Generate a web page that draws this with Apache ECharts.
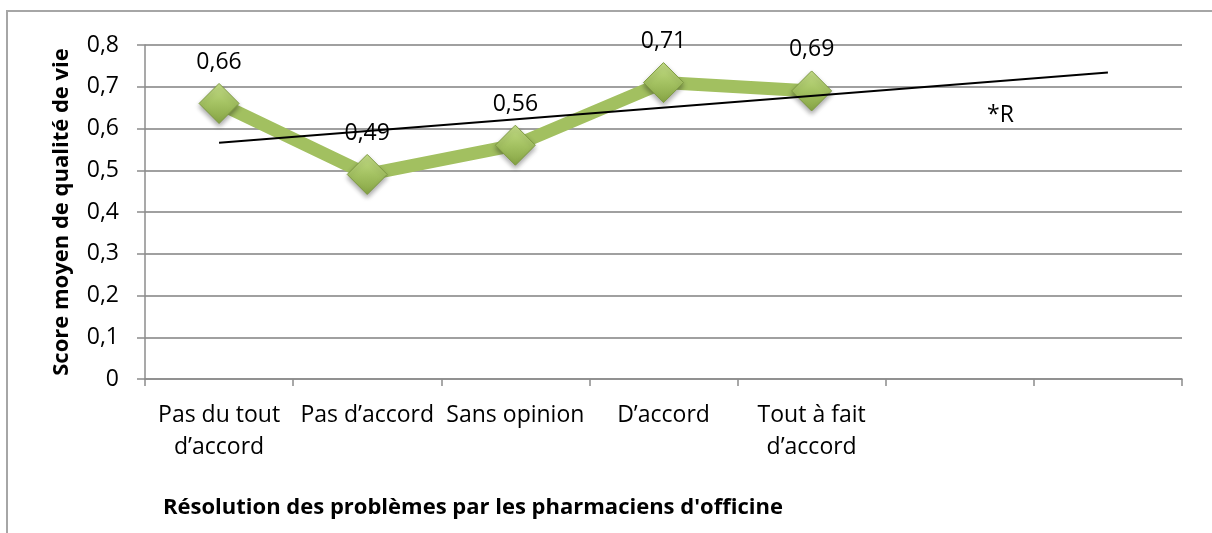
<!DOCTYPE html>
<html>
<head>
<meta charset="utf-8">
<script src="https://cdn.jsdelivr.net/npm/echarts@6/dist/echarts.min.js"></script>
<style>
  html, body { margin: 0; padding: 0; background: #fff; }
  #chart { width: 1212px; height: 533px; position: relative; }
  #frame {
    position: absolute; left: 6px; top: 10px; width: 1300px; height: 600px;
    border-top: 2px solid #a6a6a6; border-left: 2px solid #a6a6a6;
    pointer-events: none;
  }
</style>
</head>
<body>
<div id="chart"></div>
<div id="frame"></div>
<script>
// categories (last two slots are empty in the original)
const categories = ['Pas du tout\nd’accord', 'Pas d’accord', 'Sans opinion', 'D’accord', 'Tout à fait\nd’accord', '', ''];
const scores = [0.66, 0.49, 0.56, 0.71, 0.69, null, null];
// trend line end points
const trend = [0.566, null, null, null, null, null, 0.734];
const yTicks = [0, 0.1, 0.2, 0.3, 0.4, 0.5, 0.6, 0.7, 0.8];

const fontFam = '"Open Sans", Lato, sans-serif';
const fmt = v => String(v).replace('.', ',');

const chart = echarts.init(document.getElementById('chart'));

const option = {
  animation: false,
  textStyle: { fontFamily: fontFam },
  title: {
    text: 'Résolution des problèmes par les pharmaciens d\'officine',
    left: 158, top: 492,
    textStyle: { fontFamily: fontFam, fontSize: 22, fontWeight: 'bold', color: '#000' }
  },
  graphic: [{
    type: 'text', left: 987, top: 104,
    style: { text: '*R', fontFamily: fontFam, fontSize: 23, fill: '#000' }
  }],
  grid: { left: 145, right: 30, top: 45, bottom: 154 },
  xAxis: {
    type: 'category',
    data: categories,
    boundaryGap: true,
    axisLine: { lineStyle: { color: '#8c8c8c', width: 1.5 } },
    axisTick: { show: true, length: 7, alignWithLabel: false, lineStyle: { color: '#8c8c8c', width: 1.5 } },
    axisLabel: { color: '#000', fontSize: 23, lineHeight: 32, margin: 20, interval: 0, fontFamily: fontFam }
  },
  yAxis: {
    type: 'value',
    min: yTicks[0], max: yTicks[yTicks.length - 1], interval: 0.1,
    name: 'Score moyen de qualité de vie',
    nameLocation: 'middle', nameGap: 72,
    nameTextStyle: { fontFamily: fontFam, fontSize: 22, fontWeight: 'bold', color: '#000' },
    axisLine: { show: true, lineStyle: { color: '#8c8c8c', width: 1.5 } },
    axisTick: { show: true, length: 8, lineStyle: { color: '#8c8c8c', width: 1.5 } },
    axisLabel: { color: '#000', fontSize: 23, margin: 26, formatter: v => fmt(Math.round(v * 10) / 10) },
    splitLine: { lineStyle: { color: '#a0a0a0', width: 2 } }
  },
  series: [
    {
      type: 'line',
      data: scores,
      z: 3,
      lineStyle: { color: '#a2c060', width: 13 },
      symbol: 'diamond',
      symbolSize: 40,
      itemStyle: {
        color: new echarts.graphic.LinearGradient(0, 0, 0, 1, [
          { offset: 0, color: '#c6df88' },
          { offset: 0.5, color: '#a4c262' },
          { offset: 1, color: '#86a444' }
        ]),
        borderColor: '#7e9a42',
        borderWidth: 1,
        shadowColor: 'rgba(0,0,0,0.35)',
        shadowBlur: 5,
        shadowOffsetY: 3
      },
      label: {
        show: true, position: 'top', distance: 9,
        color: '#000', fontSize: 23, fontFamily: fontFam,
        formatter: p => fmt(p.value)
      }
    },
    {
      type: 'line',
      data: trend,
      z: 4,
      connectNulls: true,
      symbol: 'none',
      lineStyle: { color: '#000', width: 2 },
      silent: true
    }
  ]
};

chart.setOption(option);
</script>
</body>
</html>
